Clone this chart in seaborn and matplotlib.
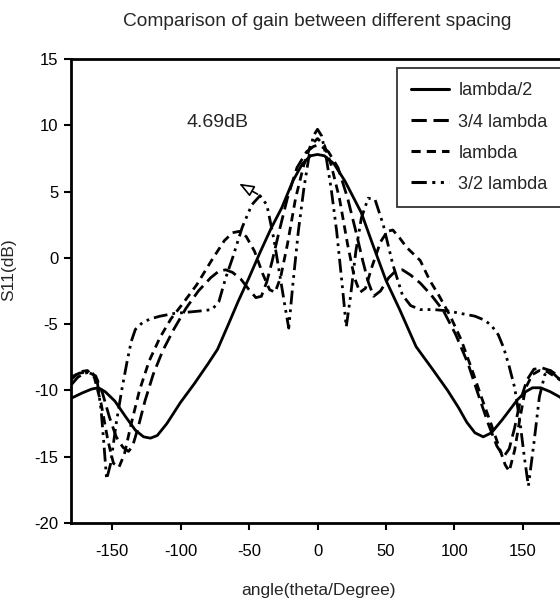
import matplotlib
matplotlib.use("Agg")
import matplotlib.pyplot as plt
import seaborn as sns
import pandas as pd

# ---- data ----
names = ["lambda/2", "3/4 lambda", "lambda", "3/2 lambda"]

ang_half = [-180, -172, -165, -160, -155, -148, -140, -133, -127, -122, -117, -110, -100, -90, -80, -73, -65,
            -58, -50, -42, -34, -26, -18, -11, -5, 0, 5, 12, 20, 26, 32, 40, 50, 60, 72, 84, 95, 103, 109,
            115, 121, 127, 135, 146, 152, 157, 163, 170, 177, 180]
gain_half = [-10.6, -10.2, -9.9, -9.8, -10.1, -10.8, -12.0, -13.0, -13.5, -13.6, -13.4, -12.5, -10.9, -9.5,
             -8.0, -6.9, -5.0, -3.3, -1.5, 0.4, 2.2, 3.8, 5.8, 7.1, 7.7, 7.8, 7.7, 7.1, 5.8, 4.6, 3.4, 1.1,
             -1.7, -3.9, -6.7, -8.4, -10.0, -11.3, -12.4, -13.2, -13.5, -13.2, -12.2, -10.7, -10.1, -9.8,
             -9.8, -10.1, -10.5, -10.8]

ang_34 = [-180, -174, -168, -162, -157, -152, -147, -142, -138, -135, -131, -126, -120, -113, -105, -96, -87,
          -78, -72, -67, -62, -56, -50, -45, -41, -37, -33, -28, -22, -15, -8, -3, 0,
          3, 8, 15, 22, 28, 33, 37, 41, 46, 52, 57, 62, 68, 75, 83, 92, 101, 110, 118, 125, 131, 136, 140,
          144, 148, 153, 158, 164, 170, 176, 180]
gain_34 = [-9.0, -8.7, -8.6, -8.9, -10.2, -12.0, -13.5, -14.3, -14.6, -14.2, -12.8, -10.8, -8.8, -7.0, -5.4,
           -3.8, -2.5, -1.5, -1.0, -0.9, -1.1, -1.6, -2.4, -3.0, -2.9, -1.8, -0.2, 2.0, 4.5, 6.8, 8.0, 8.4, 8.5,
           8.4, 8.0, 6.8, 4.5, 2.0, -0.2, -1.8, -2.9, -2.5, -1.5, -1.0, -0.9, -1.3, -1.9, -2.8, -4.0, -5.8,
           -8.0, -10.5, -12.6, -14.2, -15.0, -14.4, -12.8, -10.8, -9.2, -8.4, -8.3, -8.5, -8.9, -9.1]

ang_1 = [-180, -174, -168, -163, -158, -153, -149, -145, -141, -136, -130, -123, -115, -107, -98, -88, -78,
         -68, -62, -57, -52, -46, -40, -35, -31, -27, -22, -16, -10, -5, 0,
         5, 10, 16, 22, 27, 31, 35, 40, 46, 51, 55, 60, 65, 75, 82, 89, 97, 105, 113, 120, 127, 133, 137,
         140, 144, 148, 152, 157, 162, 168, 174, 180]
gain_1 = [-9.2, -8.6, -8.5, -9.0, -11.0, -13.8, -15.5, -15.8, -14.8, -12.5, -10.0, -7.8, -6.0, -4.6, -3.4,
          -2.0, -0.3, 1.3, 1.9, 2.0, 1.6, 0.5, -1.2, -2.4, -2.6, -1.5, 1.0, 4.5, 7.0, 8.5, 9.0,
          8.5, 7.0, 4.5, 1.0, -1.5, -2.6, -2.3, -0.6, 1.2, 2.0, 2.1, 1.5, 0.8, -0.2, -1.7, -2.9, -4.4, -6.2,
          -8.5, -10.6, -12.6, -14.4, -15.6, -16.1, -14.5, -12.0, -9.8, -8.8, -8.5, -8.6, -9.0, -9.4]

ang_32 = [-180, -175, -170, -165, -161, -158, -156, -154, -151, -147, -143, -139, -136, -133, -128, -122,
          -115, -105, -95, -85, -77, -72, -67, -62, -55, -48, -42, -37, -32, -28, -24, -21, -18, -14, -10,
          -6, -3, 0,
          3, 6, 10, 14, 18, 21, 24, 28, 32, 37, 42, 48, 55, 62, 68, 75, 85, 95, 105, 115, 122, 127, 132,
          136, 140, 144, 148, 151, 154, 158, 162, 166, 170, 175, 180]
gain_32 = [-9.6, -9.0, -8.7, -8.6, -9.2, -11.5, -14.0, -16.7, -15.5, -12.5, -10.0, -7.8, -6.3, -5.4, -4.9,
           -4.6, -4.4, -4.2, -4.1, -4.0, -3.9, -3.3, -1.5, 0.0, 2.3, 4.0, 4.69, 4.0, 1.5, -1.0, -3.5, -5.3,
           -2.0, 2.0, 5.2, 7.8, 9.2, 9.7,
           9.2, 7.8, 5.2, 2.0, -2.0, -5.2, -3.0, 0.5, 3.0, 4.5, 4.4, 2.5, -0.5, -2.8, -3.6, -3.9, -3.9,
           -4.0, -4.2, -4.4, -4.7, -5.1, -5.8, -6.8, -8.2, -9.8, -12.5, -15.0, -17.2, -14.0, -10.5, -8.8,
           -8.5, -9.0, -9.4]

x_ticks = [-150, -100, -50, 0, 50, 100, 150]
y_ticks = [-20, -15, -10, -5, 0, 5, 10, 15]
peak_label = "4.69dB"

frames = []
for nm, a, g in zip(names, [ang_half, ang_34, ang_1, ang_32], [gain_half, gain_34, gain_1, gain_32]):
    frames.append(pd.DataFrame({"angle": a, "gain": g, "spacing": nm}))
df = pd.concat(frames, ignore_index=True)

# ---- style ----
sns.set_style("ticks")
plt.rcParams["font.family"] = ["Liberation Sans", "DejaVu Sans"]
plt.rcParams["axes.unicode_minus"] = False

fig = plt.figure(figsize=(5.6, 6.02), dpi=100)
ax = fig.add_axes([71 / 560, 1 - 523 / 602, (564 - 71) / 560, (523 - 59) / 602])

dash_map = {"lambda/2": "", "3/4 lambda": (5, 2.2), "lambda": (3, 2), "3/2 lambda": (5, 1.8, 1, 1.8, 1, 1.8)}

sns.lineplot(data=df, x="angle", y="gain", hue="spacing", style="spacing",
             hue_order=names, style_order=names, palette=["black"] * 4, dashes=dash_map,
             sort=False, estimator=None, ax=ax, legend=True)
for line in ax.lines:
    line.set_linewidth(2.0)

ax.set_xlim(-180, 180)
ax.set_ylim(-20, 15)
ax.set_xticks(x_ticks)
ax.set_yticks(y_ticks)
ax.tick_params(axis="both", direction="out", length=5, width=1.5, labelsize=12, colors="black", pad=4)
ax.tick_params(axis="x", pad=10)
for side in ["left", "bottom", "top", "right"]:
    ax.spines[side].set_linewidth(2)
    ax.spines[side].set_color("black")

ax.set_xlabel("angle(theta/Degree)", fontsize=12.5)
ax.xaxis.set_label_coords((318 - 71) / 493, (523 - 583) / 464)
ax.set_ylabel("S11(dB)", fontsize=12.5)
ax.yaxis.set_label_coords((16 - 71) / 493, (523 - 270) / 464)
fig.text(317 / 560, 1 - 22 / 602, "Comparison of gain between different spacing",
         ha="center", va="center", fontsize=13.8)

# annotation for the side lobe
ax.annotate("", xy=(-59, 5.7), xytext=(-42, 4.7),
            arrowprops=dict(arrowstyle="-|>,head_length=0.9,head_width=0.35", fc="white", ec="black", lw=1.2))
ax.text(-73, 10.2, peak_label, ha="center", va="center", fontsize=14)

handles, labels = ax.get_legend_handles_labels()
leg = ax.legend(handles, labels, loc="upper right",
                bbox_to_anchor=((562 - 71) / 493, (523 - 68) / 464), frameon=True,
                fancybox=False, edgecolor="black", fontsize=13, handlelength=2.1, labelspacing=0.78,
                borderpad=0.8, handletextpad=0.5, borderaxespad=0)
leg.get_frame().set_linewidth(1.3)
for h in leg.get_lines():
    h.set_linewidth(2.2)

fig.savefig("out.png", dpi=100)
